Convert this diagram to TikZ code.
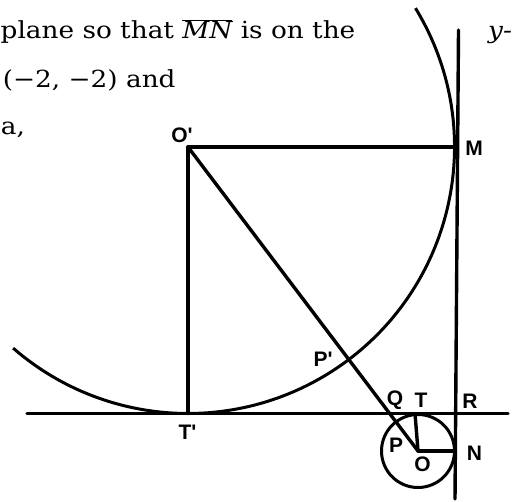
\documentclass[tikz,border=0pt]{standalone}
\usepackage{fontspec}
\setmainfont{DejaVu Serif}
\newfontfamily\lblfont{Liberation Sans}[Ligatures=ResetAll]
\begin{document}
\begin{tikzpicture}[x=1pt,y=1pt,
  geo/.style={line width=3.4pt, line cap=round},
  arcline/.style={line width=3pt},
  lbl/.style={font=\lblfont\bfseries\fontsize{21}{23}\selectfont, inner sep=0pt},
  txt/.style={font=\fontsize{23.5}{28}\selectfont, inner sep=0pt, anchor=base west}]
\useasboundingbox (0,0) rectangle (518,501);
\coordinate (Op) at (188,354);
\coordinate (M) at (457.5,354);
\coordinate (Tp) at (188,87.5);
\coordinate (O) at (418,50);
\coordinate (T) at (415,87.5);
\coordinate (N) at (455.3,50);
\coordinate (Ltop) at (458.5,471);
\coordinate (Lbot) at (455,2);
\coordinate (Hl) at (27,87.5);
\coordinate (Hr) at (508,87.5);
% circles
\draw[arcline] (Op) ++(31.4:266.5pt) arc[start angle=31.4, end angle=-131, radius=266.5pt];
\draw[arcline] (O) circle[radius=36.5pt];
% lines
\draw[geo] (Ltop) -- (Lbot);
\draw[geo] (Hl) -- (Hr);
\draw[geo] (Op) -- (M);
\draw[geo] (Op) -- (Tp);
\draw[geo] (Op) -- (O);
\draw[geo] (O) -- (T);
\draw[geo] (O) -- (N);
% labels
\node[lbl] (lOp) at (182,366) {O'};
\node[lbl] (lM) at (474,353) {M};
\node[lbl] (lTp) at (187.5,69) {T'};
\node[lbl] (lPp) at (323,141.5) {P'};
\node[lbl] (lQ) at (395,101) {Q};
\node[lbl] (lT) at (421,101) {T};
\node[lbl] (lR) at (470,100) {R};
\node[lbl] (lP) at (396,55.5) {P};
\node[lbl] (lO) at (422.5,36.5) {O};
\node[lbl] (lN) at (474.5,47.5) {N};
% cropped text
\node[txt] (l1) at (0.5,462) {\scalebox{1.12}[1]{plane so that $\overline{\mbox{\itshape MN}}$ is on the}};
\node[txt] (l2) at (2.7,413.7) {\scalebox{1.12}[1]{(−2, −2) and}};
\node[txt] (l3) at (0.8,366.7) {\scalebox{1.12}[1]{a,}};
\node[txt] (l4) at (488,462) {\scalebox{1.12}[1]{\itshape y-}};
\end{tikzpicture}
\end{document}
